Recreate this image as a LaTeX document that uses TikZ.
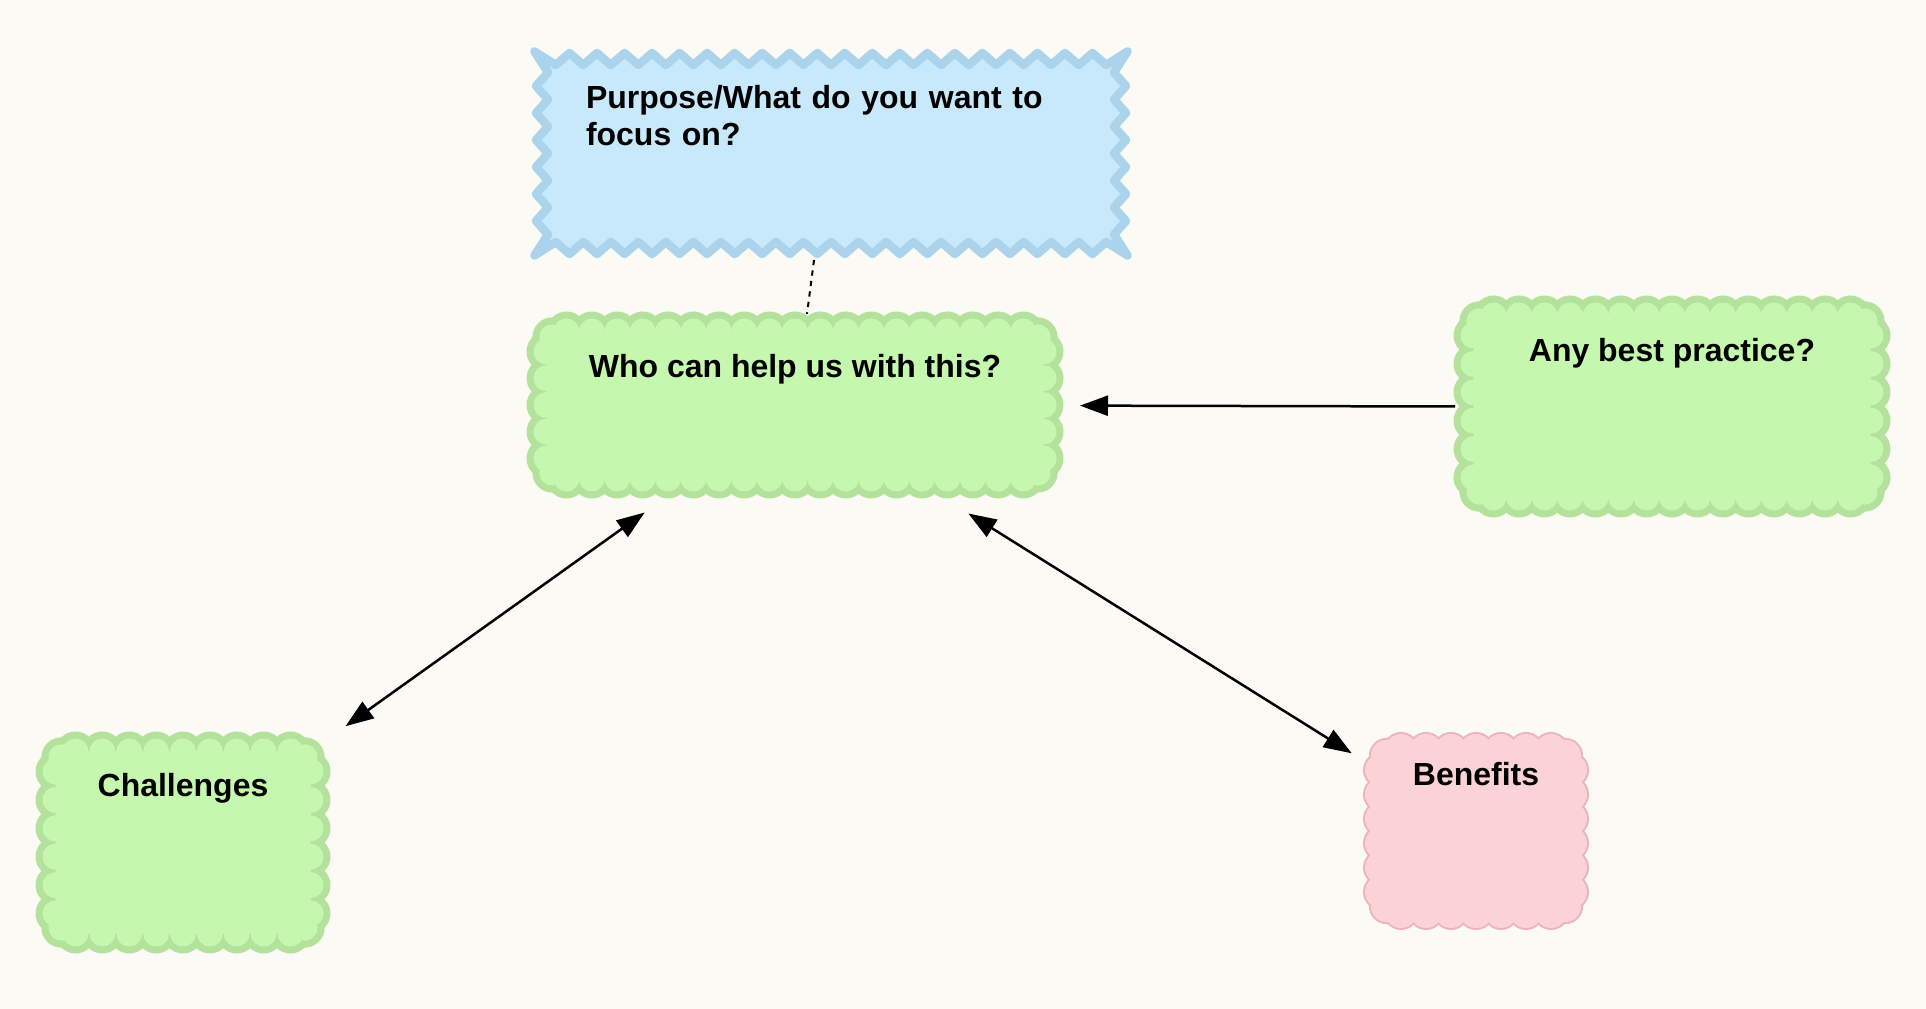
\documentclass[tikz,border=0pt]{standalone}
\usepackage{fontspec}
\setmainfont{Liberation Sans}
\usepackage{xcolor}
\usetikzlibrary{positioning,calc,arrows.meta}

\definecolor{bgcream}{HTML}{FCFAF4}
\definecolor{leafgreen}{HTML}{C6F7AF}
\definecolor{leafedge}{HTML}{B4E29D}
\definecolor{skyblue}{HTML}{C7E9FB}
\definecolor{skyedge}{HTML}{ABD3EC}
\definecolor{rosepink}{HTML}{FBD3D6}
\definecolor{roseedge}{HTML}{EBB5BB}

\pgfdeclarelayer{canvas}
\pgfdeclarelayer{shapes}
\pgfsetlayers{canvas,shapes,main}

\tikzset{
  boxtext/.style={font=\fontsize{18.2}{21}\selectfont\bfseries, inner sep=0pt, outer sep=0pt},
  zigline/.style={fill=skyblue, draw=skyedge, line width=0.17cm, line join=round},
  link/.style={line width=0.05cm, {Triangle[length=0.56cm,width=0.4cm]}-{Triangle[length=0.56cm,width=0.4cm]}}
}

% scalloped frame round a node: node, width, height, outer radius,
% inner radius, edge colour, fill colour, spacing
\newcommand{\scallops}[8]{%
  \begin{scope}[shift={(#1.center)}]
    \pgfmathsetmacro{\hw}{#2/2-0.4}
    \pgfmathsetmacro{\hh}{#3/2-0.4}
    \pgfmathtruncatemacro{\nx}{max(1,round(2*\hw/#8))}
    \pgfmathtruncatemacro{\ny}{max(1,round(2*\hh/#8))}
    \foreach \rad/\col in {#4/#6, #5/#7} {
      \foreach \i in {0,...,\nx} {
        \fill[\col] ({-\hw+2*\hw*\i/\nx}, {\hh+0.4}) circle (\rad);
        \fill[\col] ({-\hw+2*\hw*\i/\nx}, {-\hh-0.4}) circle (\rad);
      }
      \foreach \i in {0,...,\ny} {
        \fill[\col] ({\hw+0.4}, {-\hh+2*\hh*\i/\ny}) circle (\rad);
        \fill[\col] ({-\hw-0.4}, {-\hh+2*\hh*\i/\ny}) circle (\rad);
      }
      \foreach \cx/\cy in {1/1, 1/-1, -1/1, -1/-1}
        \fill[\col] ({\cx*(\hw+0.283)}, {\cy*(\hh+0.283)}) circle (\rad);
    }
    \fill[#7, rounded corners=0.4cm] ({-#2/2}, {-#3/2}) rectangle ({#2/2}, {#3/2});
  \end{scope}
}

% zigzag frame round a node: node, width, height, teeth across, teeth down
\newcommand{\zigframe}[5]{%
  \begin{scope}[shift={(#1.center)}]
    \pgfmathsetmacro{\hw}{#2/2}
    \pgfmathsetmacro{\hh}{#3/2}
    \pgfmathsetmacro{\stepx}{#2/(2*#4)}
    \pgfmathsetmacro{\stepy}{#3/(2*#5)}
    \pgfmathtruncatemacro{\kx}{2*#4-1}
    \pgfmathtruncatemacro{\ky}{2*#5-1}
    \path[zigline] ({-\hw-0.15}, {\hh+0.15})
      \foreach \k in {1,...,\kx} { -- ({-\hw+\k*\stepx}, {\hh+(1-2*mod(\k,2))*0.12}) }
      -- ({\hw+0.15}, {\hh+0.15})
      \foreach \k in {1,...,\ky} { -- ({\hw+(1-2*mod(\k,2))*0.12}, {\hh-\k*\stepy}) }
      -- ({\hw+0.15}, {-\hh-0.15})
      \foreach \k in {1,...,\kx} { -- ({\hw-\k*\stepx}, {-\hh-(1-2*mod(\k,2))*0.12}) }
      -- ({-\hw-0.15}, {-\hh-0.15})
      \foreach \k in {1,...,\ky} { -- ({-\hw-(1-2*mod(\k,2))*0.12}, {-\hh+\k*\stepy}) }
      -- cycle;
  \end{scope}
}

\begin{document}
\begin{tikzpicture}
    \begin{pgfonlayer}{canvas}
    \fill[bgcream] (0,0) rectangle (38.52,20.18);
    \end{pgfonlayer}
    \useasboundingbox (0,0) rectangle (38.52,20.18);

    % focus question
    \node[boxtext, minimum width=11.56cm, text width=9.8cm, align=left,
          text height=1.0cm, text depth=2.78cm] (purpose) at (16.62,17.11)
          {Purpose/What do you want to\\focus on?};

    % central question
    \node[boxtext, minimum width=9.94cm, text height=0.93cm, text depth=2.01cm]
          (who) at (15.9,12.08) {Who can help us with this?};

    % side notes
    \node[boxtext, minimum width=7.94cm, text height=0.93cm, text depth=2.71cm]
          (best) at (33.44,12.05) {Any best practice?};
    \node[boxtext, minimum width=5.10cm, text height=0.91cm, text depth=2.73cm]
          (chal) at (3.66,3.33) {Challenges};
    \node[boxtext, minimum width=3.80cm, text height=0.72cm, text depth=2.52cm]
          (bene) at (29.52,3.56) {Benefits};

    \begin{pgfonlayer}{shapes}
    \zigframe{purpose}{11.56}{3.78}{21}{7}
    \scallops{who}{9.94}{2.94}{0.40}{0.26}{leafedge}{leafgreen}{0.52}
    \scallops{best}{7.94}{3.64}{0.40}{0.26}{leafedge}{leafgreen}{0.52}
    \scallops{chal}{5.10}{3.64}{0.40}{0.26}{leafedge}{leafgreen}{0.52}
    \scallops{bene}{3.80}{3.24}{0.36}{0.32}{roseedge}{rosepink}{0.54}
    \end{pgfonlayer}

    % links
    \draw[dashed, line width=0.04cm] ([xshift=-0.34cm,yshift=-0.24cm]purpose.south)
          -- ([xshift=0.24cm,yshift=0.35cm]who.north);
    \draw[line width=0.05cm, -{Triangle[length=0.56cm,width=0.4cm]},
          shorten >=0.73cm] ([xshift=-0.37cm]best.west) -- (who);
    \draw[link, shorten <=1.17cm, shorten >=0.87cm] (who) -- (chal);
    \draw[link, shorten <=1.32cm, shorten >=0.69cm] (who) -- (bene);
\end{tikzpicture}
\end{document}
